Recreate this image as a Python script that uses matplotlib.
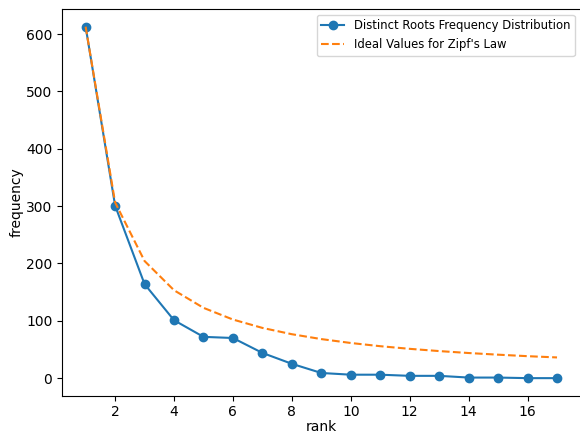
import matplotlib
matplotlib.use("Agg")
import matplotlib.pyplot as plt

rank = list(range(1, 18))
freq = [613, 301, 164, 101, 72, 70, 44, 25, 9, 6, 6, 4, 4, 1, 1, 0, 0]
# ideal zipf values
ideal = [613, 306.5, 204.3, 153.3, 122.6, 102.2, 87.6, 76.6, 68.1,
         61.3, 55.7, 51.1, 47.2, 43.8, 40.9, 38.3, 36.1]

fig, ax = plt.subplots(figsize=(5.8, 4.32), dpi=100)
ax.plot(rank, freq, "o-", label="Distinct Roots Frequency Distribution")
ax.plot(rank, ideal, "--", label="Ideal Values for Zipf's Law")
ax.set_xlabel("rank", labelpad=0.5)
ax.set_ylabel("frequency", labelpad=2)
ax.legend(fontsize="small")
fig.subplots_adjust(left=0.107, right=1.001, top=0.979, bottom=0.084)
fig.savefig("out.png")
